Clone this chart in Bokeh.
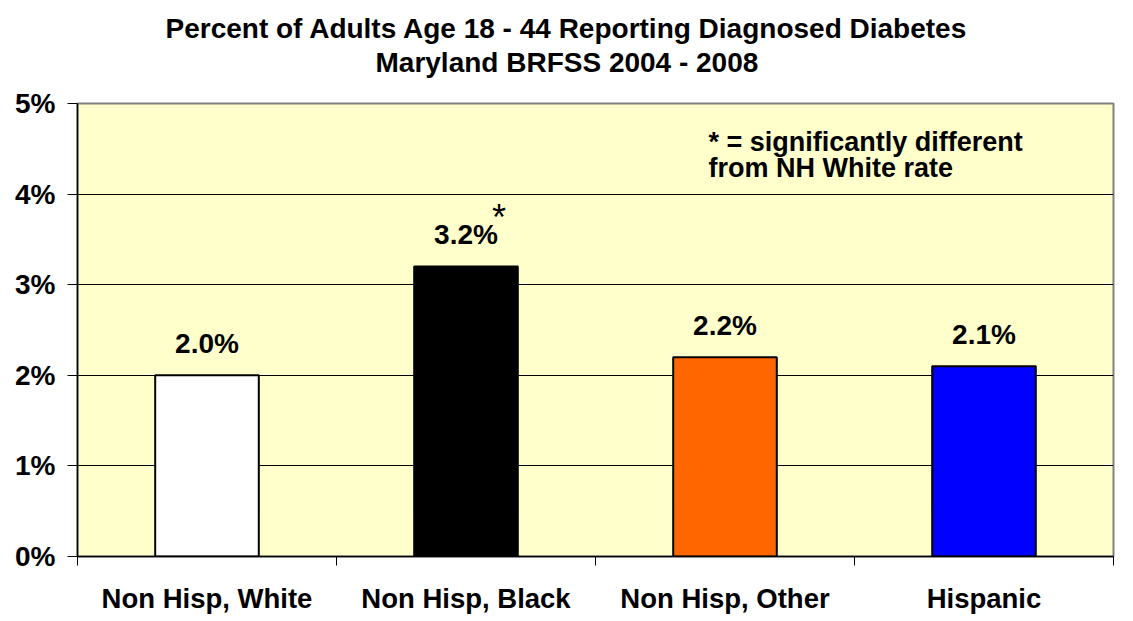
from bokeh.plotting import figure
from bokeh.models import Range1d, FixedTicker, Label, ColumnDataSource, Title
from bokeh.core.properties import value
from bokeh.embed import file_html
from bokeh.resources import INLINE

categories = ["Non Hisp, White", "Non Hisp, Black", "Non Hisp, Other", "Hispanic"]
rates = [2.0, 3.2, 2.2, 2.1]
bar_colors = ["#FFFFFF", "#000000", "#FF6600", "#0000FF"]
y_ticks = [0, 1, 2, 3, 4, 5]
y_tick_labels = ["0%", "1%", "2%", "3%", "4%", "5%"]
title_lines = ["Percent of Adults Age 18 - 44 Reporting Diagnosed Diabetes",
               "Maryland BRFSS 2004 - 2008"]
note_lines = ["* = significantly different", "from NH White rate"]
significant = [False, True, False, False]

FONT = "Liberation Sans"
xpos = [i + 1 for i in range(len(categories))]
bounds = [i + 0.5 for i in range(len(categories) + 1)]

src = ColumnDataSource(dict(
    x=xpos, top=rates, color=bar_colors,
    label=[f"{v:.1f}%" for v in rates],
))

p = figure(width=1133, height=621, output_backend="svg", toolbar_location=None,
           x_range=Range1d(0.5, 4.5), y_range=Range1d(0, 5),
           min_border_left=77, min_border_right=20, min_border_top=103,
           min_border_bottom=65)
p.background_fill_color = "#FFFFCC"
p.border_fill_color = "#FFFFFF"
p.outline_line_color = "#808080"
p.outline_line_width = 2

p.xgrid.visible = False
p.ygrid.ticker = FixedTicker(ticks=y_ticks)
p.ygrid.grid_line_color = "#000000"
p.ygrid.grid_line_width = 1

p.vbar(x="x", top="top", width=0.4, bottom=0, fill_color="color",
       line_color="#000000", line_width=2, source=src)

p.text(x="x", y="top", text="label", source=src, text_align="center",
       text_baseline="alphabetic", y_offset=-32,
       text_font=value(FONT), text_font_style="bold", text_font_size="28px",
       text_color="#000000")

# y axis
ya = p.yaxis[0]
ya.ticker = FixedTicker(ticks=y_ticks)
ya.major_label_overrides = {t: l for t, l in zip(y_ticks, y_tick_labels)}
ya.major_tick_out = 10
ya.major_tick_in = 0
ya.minor_tick_out = 0
ya.minor_tick_in = 0
ya.axis_line_color = "#000000"
ya.axis_line_width = 1.5
ya.major_tick_line_color = "#000000"
ya.major_label_standoff = 12
ya.major_label_text_font = FONT
ya.major_label_text_font_style = "bold"
ya.major_label_text_font_size = "28px"
ya.major_label_text_color = "#000000"

# x axis
xa = p.xaxis[0]
xa.ticker = FixedTicker(ticks=xpos, minor_ticks=bounds)
xa.major_label_overrides = {x: c for x, c in zip(xpos, categories)}
xa.major_tick_out = 0
xa.major_tick_in = 0
xa.minor_tick_out = 9
xa.minor_tick_in = 0
xa.minor_tick_line_color = "#000000"
xa.minor_tick_line_width = 1
xa.axis_line_color = "#000000"
xa.axis_line_width = 1.5
xa.major_label_standoff = 17
xa.major_label_text_font = FONT
xa.major_label_text_font_style = "bold"
xa.major_label_text_font_size = "27.5px"
xa.major_label_text_color = "#000000"

# title lines: first added sits closest to the frame
p.add_layout(Title(text=title_lines[1], align="left", offset=298,
                   standoff=51, text_font=FONT, text_font_style="bold",
                   text_font_size="28px", text_color="#000000"), "above")
p.add_layout(Title(text=title_lines[0], align="left", offset=88,
                   standoff=-49, text_font=FONT, text_font_style="bold",
                   text_font_size="28px", text_color="#000000"), "above")

# note
for txt, yv in zip(note_lines, [4.570, 4.290]):
    p.add_layout(Label(x=2.936, y=yv, text=txt, text_align="left",
                       text_baseline="alphabetic", text_font=FONT,
                       text_font_style="bold", text_font_size="27px",
                       text_color="#000000"))

# significance asterisk
for xv, v, sig in zip(xpos, rates, significant):
    if sig:
        p.add_layout(Label(x=xv + 0.127, y=3.747, text="*", text_align="center",
                           text_baseline="alphabetic", text_font=FONT,
                           text_font_style="normal", text_font_size="36px",
                           text_color="#000000"))

open("out.html", "w").write(file_html(p, INLINE))
